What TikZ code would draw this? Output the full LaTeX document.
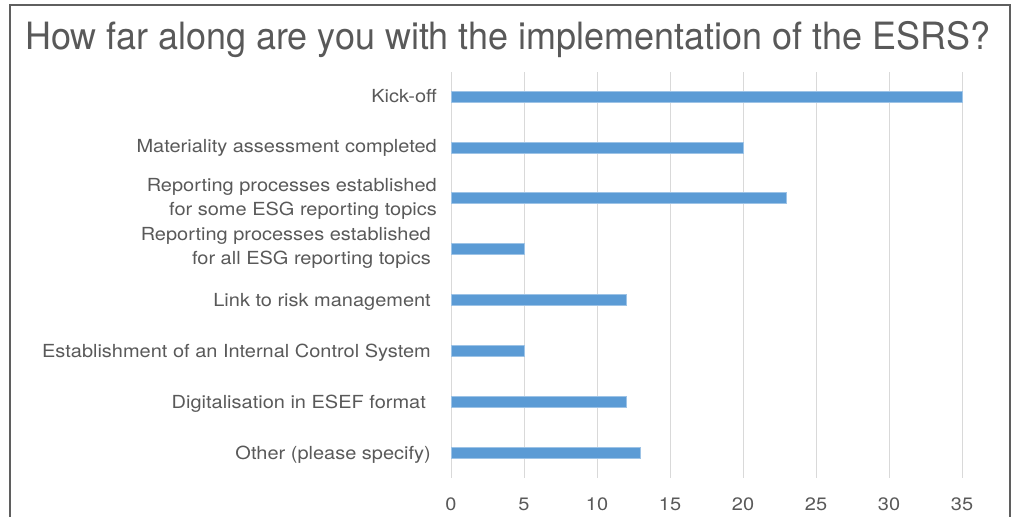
\documentclass[tikz,border=0pt]{standalone}
\usepackage{fontspec}
\setmainfont{TeX Gyre Heros}
\newfontfamily\labfont{TeX Gyre Heros}[FakeStretch=1.11]
\definecolor{txt}{HTML}{595959}
\definecolor{gridc}{HTML}{D9D9D9}
\definecolor{barfill}{HTML}{5B9BD5}
\definecolor{barline}{HTML}{9DC3E6}
\definecolor{framec}{HTML}{5F5F5F}
\begin{document}
\begin{tikzpicture}[x=1pt,y=-1pt,
  lab/.style={anchor=base east, inner sep=0pt, text=txt, font=\labfont\fontsize{18}{24}\selectfont, align=right},
  ticklab/.style={anchor=center, inner sep=0pt, text=txt, font=\labfont\fontsize{18}{22}\selectfont},
  gridline/.style={draw=gridc, line width=1pt},
  bar/.style={fill=barfill, draw=barline, line width=0.8pt},
  frameline/.style={draw=framec, line width=1.4pt}]
\useasboundingbox (0,0) rectangle (1013,517);
% frame
\coordinate (fbl) at (10,518);
\coordinate (ftl) at (10,5);
\coordinate (ftr) at (1010,5);
\coordinate (fbr) at (1010,518);
\draw[frameline] (fbl) -- (ftl) -- (ftr) -- (fbr);
% title
\node[anchor=base west, inner sep=0pt, text=txt, font=\fontsize{37.6}{40}\selectfont] (title) at (25,49)
  {\resizebox{965pt}{\height}{How far along are you with the implementation of the ESRS?}};
% grid and ticks
\foreach \v [count=\i from 0] in {0,5,10,15,20,25,30,35} {
  \coordinate (gt\i) at ({451+\v*14.6},72);
  \coordinate (gb\i) at ({451+\v*14.6},478);
  \draw[gridline] (gt\i) -- (gb\i);
  \node[ticklab] (t\i) at ({451+\v*14.6},504) {\v};
}
% bars
\foreach \c/\v [count=\i] in {97/35,148/20,198/23,249/5,300/12,351/5,402/12,453/13} {
  \draw[bar] (451,{\c-5.5}) rectangle ({451+\v*14.6},{\c+5.5});
}
% labels
\node[lab] (l1) at (437,102) {Kick-off};
\node[lab] (l2) at (437,152) {Materiality assessment completed};
\node[lab] (l3a) at (437,191) {Reporting processes established};
\node[lab] (l3b) at (437,215) {for some ESG reporting topics};
\node[lab] (l4a) at (431,240) {Reporting processes established};
\node[lab] (l4b) at (431,264) {for all ESG reporting topics};
\node[lab] (l5) at (431,306) {Link to risk management};
\node[lab] (l6) at (431,357) {Establishment of an Internal Control System};
\node[lab] (l7) at (426,408) {Digitalisation in ESEF format};
\node[lab] (l8) at (431,459) {Other (please specify)};
\end{tikzpicture}
\end{document}
